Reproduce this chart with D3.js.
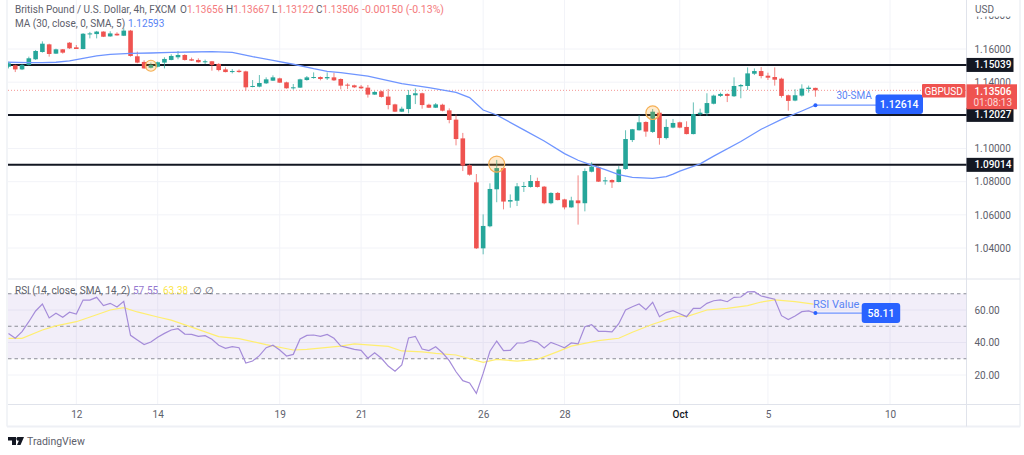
<!DOCTYPE html>
<html>
<head>
<meta charset="utf-8">
<script src="https://cdn.jsdelivr.net/npm/d3@7"></script>
<style>
  html, body { margin: 0; padding: 0; background: #fff; }
  svg { display: block; }
  text { font-family: Roboto, "Liberation Sans", sans-serif; }
</style>
</head>
<body>
<div id="chart"></div>
<script>
// 4h candles, first bar sits 10 bars before the "12" tick
const open = [1.1493,1.1502,1.1477,1.1504,1.1538,1.1582,1.1628,1.1572,1.1598,1.1638,
  1.1610,1.1600,1.1690,1.1690,1.1705,1.1676,1.1692,1.1680,1.1711,1.1556,
  1.1522,1.1487,1.1493,1.1518,1.1534,1.1550,1.1564,1.1538,1.1534,1.1520,
  1.1526,1.1510,1.1477,1.1463,1.1469,1.1465,1.1371,1.1373,1.1393,1.1409,
  1.1423,1.1399,1.1363,1.1367,1.1413,1.1427,1.1431,1.1423,1.1429,1.1419,
  1.1385,1.1381,1.1373,1.1367,1.1325,1.1345,1.1313,1.1266,1.1222,1.1238,
  1.1321,1.1333,1.1264,1.1246,1.1264,1.1230,1.1174,1.1061,1.0899,1.0796,
  1.0398,1.0531,1.0754,1.0882,1.0680,1.0685,1.0768,1.0768,1.0804,1.0770,
  1.0670,1.0732,1.0693,1.0645,1.0687,1.0670,1.0860,1.0886,1.0802,1.0810,
  1.0798,1.0876,1.1051,1.1110,1.1160,1.1100,1.1216,1.1063,1.1126,1.1158,
  1.1130,1.1087,1.1206,1.1212,1.1270,1.1317,1.1329,1.1315,1.1375,1.1377,
  1.1451,1.1467,1.1439,1.1431,1.1421,1.1321,1.1289,1.1319,1.1359,1.13656];
const high = [1.1524,1.1506,1.1510,1.1554,1.1594,1.1646,1.1632,1.1602,1.1600,1.1642,
  1.1624,1.1696,1.1703,1.1709,1.1707,1.1707,1.1701,1.1725,1.1715,1.1584,
  1.1532,1.1518,1.1524,1.1550,1.1568,1.1588,1.1568,1.1548,1.1544,1.1536,
  1.1528,1.1514,1.1489,1.1479,1.1477,1.1469,1.1413,1.1443,1.1429,1.1441,
  1.1427,1.1403,1.1389,1.1421,1.1437,1.1459,1.1435,1.1459,1.1457,1.1423,
  1.1393,1.1385,1.1383,1.1383,1.1347,1.1349,1.1359,1.1270,1.1252,1.1353,
  1.1363,1.1337,1.1270,1.1274,1.1270,1.1242,1.1206,1.1094,1.0905,1.0846,
  1.0603,1.0790,1.0931,1.0886,1.0723,1.0792,1.0798,1.0840,1.0824,1.0774,
  1.0736,1.0738,1.0697,1.0709,1.0838,1.0880,1.0917,1.0891,1.0828,1.0814,
  1.0894,1.1110,1.1118,1.1202,1.1164,1.1238,1.1220,1.1176,1.1178,1.1162,
  1.1164,1.1278,1.1240,1.1333,1.1325,1.1337,1.1333,1.1429,1.1389,1.1489,
  1.1483,1.1491,1.1457,1.1489,1.1427,1.1325,1.1357,1.1387,1.1379,1.13667];
const low = [1.1483,1.1461,1.1473,1.1500,1.1534,1.1578,1.1554,1.1570,1.1572,1.1600,
  1.1600,1.1598,1.1664,1.1664,1.1672,1.1674,1.1680,1.1678,1.1554,1.1514,
  1.1481,1.1483,1.1489,1.1483,1.1532,1.1538,1.1530,1.1528,1.1518,1.1510,
  1.1469,1.1465,1.1459,1.1453,1.1457,1.1349,1.1369,1.1369,1.1389,1.1407,
  1.1395,1.1361,1.1355,1.1365,1.1409,1.1421,1.1411,1.1413,1.1407,1.1357,
  1.1359,1.1365,1.1359,1.1307,1.1323,1.1307,1.1236,1.1220,1.1220,1.1212,
  1.1268,1.1240,1.1244,1.1244,1.1224,1.1152,1.1019,1.0864,1.0836,1.0394,
  1.0362,1.0525,1.0676,1.0633,1.0643,1.0653,1.0738,1.0764,1.0764,1.0664,
  1.0664,1.0687,1.0633,1.0643,1.0541,1.0621,1.0856,1.0798,1.0782,1.0762,
  1.0796,1.0872,1.1039,1.1108,1.1071,1.1094,1.1023,1.1055,1.1122,1.1122,
  1.1085,1.1085,1.1196,1.1196,1.1266,1.1311,1.1280,1.1311,1.1303,1.1353,
  1.1443,1.1423,1.1413,1.1379,1.1307,1.1228,1.1285,1.1313,1.1337,1.13122];
const close = [1.1514,1.1477,1.1504,1.1544,1.1588,1.1632,1.1570,1.1598,1.1578,1.1604,
  1.1600,1.1692,1.1694,1.1705,1.1674,1.1694,1.1682,1.1711,1.1558,1.1518,
  1.1483,1.1504,1.1520,1.1540,1.1558,1.1564,1.1534,1.1530,1.1520,1.1526,
  1.1504,1.1473,1.1461,1.1467,1.1461,1.1369,1.1377,1.1395,1.1417,1.1429,
  1.1397,1.1363,1.1369,1.1417,1.1429,1.1431,1.1419,1.1431,1.1411,1.1379,
  1.1379,1.1369,1.1363,1.1325,1.1341,1.1311,1.1262,1.1222,1.1240,1.1323,
  1.1333,1.1262,1.1246,1.1266,1.1228,1.1172,1.1057,1.0897,1.0842,1.0398,
  1.0533,1.0756,1.0882,1.0680,1.0689,1.0772,1.0774,1.0804,1.0768,1.0670,
  1.0732,1.0689,1.0645,1.0687,1.0670,1.0864,1.0891,1.0800,1.0808,1.0796,
  1.0874,1.1057,1.1116,1.1158,1.1102,1.1222,1.1063,1.1130,1.1154,1.1126,
  1.1087,1.1208,1.1216,1.1274,1.1319,1.1329,1.1317,1.1377,1.1383,1.1453,
  1.1467,1.1437,1.1427,1.1415,1.1317,1.1287,1.1321,1.1361,1.1367,1.13506];

// 30-SMA read at these bars
const smaBars = [-10,-7,-5,-3,-1,1,3,5,8,11,14,17,20,23,26,29,32,35,37,39,43,48,52,56,58,60,62,66,69,72,74,76,78,80,82,85,87,88,89,92,94,98,101,104,107,109];
const smaVals = [1.1520,1.1518,1.1518,1.1520,1.1528,1.1544,1.1558,1.1568,1.1574,1.1576,1.1580,1.1582,1.1584,1.1580,1.1554,1.1532,1.1508,1.1481,1.1465,1.1457,1.1437,1.1391,1.1367,1.1339,1.1307,1.1232,1.1202,1.1112,1.1045,1.0969,1.0929,1.0900,1.0872,1.0842,1.0826,1.0820,1.0830,1.0846,1.0864,1.0907,1.0954,1.1042,1.1116,1.1176,1.1226,1.12614];

const rsi = [45.6,42.6,46.7,52.8,59.4,63.7,55.1,58,55.5,58.6,
  57.5,66.1,66.1,67.8,62.7,64.1,61.8,65.3,44.4,41.5,
  38.7,40.3,43.2,45.6,47.7,48.5,45.2,45,43.8,44.2,
  42,38.3,36.4,37.4,36.8,27.4,28.6,31.9,36.8,38.3,
  35.4,31.7,32.7,42.2,44.4,44.6,43.8,45,42.6,37.8,
  36.8,35.8,35.2,30.3,33.7,30.3,25.5,22.3,26.2,42.8,
  43.8,36,35,37.4,33.7,28.8,22,16.5,15.1,8.7,
  21,34.6,40.9,35,35.2,39.7,39.7,41.3,40.1,36.6,
  40.1,38.5,36.8,39.7,39.1,49.7,51,46.9,46.9,46.5,
  51.6,60,62,63.7,60.2,64.7,55.9,58.4,59.6,57.7,
  55.9,61,61,64.1,65.7,66.2,65.1,67.8,68,71.1,
  71.3,68.6,67.6,66.6,56.5,54.1,56.3,59,59.4,58.11];

const rsiMaBars = [-10,-8,-5,-3,0,3,5,7,9,12,14,17,21,24,28,32,34,39,41,43,46,48,51,53,56,60,62,65,68,71,73,77,80,82,85,88,89,90,93,96,99,101,103,106,109];
const rsiMaVals = [42.6,42.6,47.7,50.2,52.8,57.1,60,61.4,58.8,55.7,53.8,49.5,43.6,42.4,38.7,35.4,35.8,37.8,39.1,38.5,37.6,34.8,34.2,33.3,32.3,27.8,29.6,28.6,29.6,34.4,37.8,41.1,42.6,46.3,51.2,55.3,56.3,55.9,60,61,62.7,64.9,66.2,65.1,63.5];

const levels = [1.15039, 1.12027, 1.09014];
const priceTicks = [1.16, 1.14, 1.12, 1.10, 1.08, 1.06, 1.04];
const cutTick = 1.18; // mostly hidden under the USD header
const rsiTicks = [60, 40, 20];
const rsiBands = [70, 50, 30];
const timeBars = [0, 12, 30, 42, 60, 72, 89, 102, 120];
const timeLabels = ["12", "14", "19", "21", "26", "28", "Oct", "5", "10"];
const touchBars = [11, 62, 85];
const touchPrices = [1.1499, 1.0906, 1.1216];
const touchRadius = [5.5, 8, 6.8];
const lastBar = 109;
const lastPrice = 1.13506;
const lastSma = 1.12614;
const lastRsi = 58.11;

const width = 1024, height = 455;
const plotL = 8, plotR = 966.5, priceB = 279, timeT = 404.5, outerB = 426.5;
const UP = "#26a69a", DOWN = "#ef5350", SOFTRED = "#f4797c", BLUE = "#2962ff", GRID = "#f2f3f8", LINE = "#e0e3eb", TXT = "#5d606b";

const bars = open.map((d, i) => ({ i: i - 10, o: d, h: high[i], l: low[i], c: close[i] }));

const x = d3.scaleLinear().domain([0, 120]).range([76.3, 890]);
const y = d3.scaleLinear().domain([1.16, 1.04]).range([49, 248]);
const yRsi = d3.scaleLinear().domain([60, 20]).range([310, 375]);

const svg = d3.select("#chart").append("svg")
  .attr("width", width).attr("height", height)
  .attr("viewBox", [0, 0, width, height]);

const defs = svg.append("defs");
defs.append("clipPath").attr("id", "pricePane").append("rect")
  .attr("x", plotL).attr("y", 0).attr("width", plotR - plotL).attr("height", priceB);
defs.append("clipPath").attr("id", "rsiPane").append("rect")
  .attr("x", plotL).attr("y", priceB).attr("width", plotR - plotL).attr("height", timeT - priceB);
defs.append("clipPath").attr("id", "priceAxis").append("rect")
  .attr("x", plotR).attr("y", 16.5).attr("width", 60).attr("height", priceB);

// grid
const grid = svg.append("g").attr("stroke", GRID).attr("stroke-width", 1);
grid.selectAll(".gx").data(timeBars).join("line").attr("class", "gx")
  .attr("x1", d => x(d)).attr("x2", d => x(d)).attr("y1", 0).attr("y2", timeT);
grid.selectAll(".gy").data(priceTicks).join("line").attr("class", "gy")
  .attr("x1", plotL).attr("x2", plotR).attr("y1", d => y(d)).attr("y2", d => y(d));
grid.selectAll(".gr").data(rsiTicks).join("line").attr("class", "gr")
  .attr("x1", plotL).attr("x2", plotR).attr("y1", d => yRsi(d)).attr("y2", d => yRsi(d));

// frame
const frame = svg.append("g").attr("fill", "none");
frame.append("line").attr("x1", 7).attr("x2", 7).attr("y1", 0).attr("y2", outerB).attr("stroke", "#eef0f5").attr("stroke-width", 1.5);
frame.append("line").attr("x1", 7).attr("x2", 1020).attr("y1", outerB).attr("y2", outerB).attr("stroke", "#eef0f5").attr("stroke-width", 2);
frame.append("line").attr("x1", 1020).attr("x2", 1020).attr("y1", 0).attr("y2", outerB).attr("stroke", "#eef0f5").attr("stroke-width", 1.5);
frame.append("line").attr("x1", plotL).attr("x2", 1020).attr("y1", priceB).attr("y2", priceB).attr("stroke", LINE);
frame.append("line").attr("x1", plotL).attr("x2", 1020).attr("y1", timeT).attr("y2", timeT).attr("stroke", LINE);
frame.append("line").attr("x1", plotR).attr("x2", plotR).attr("y1", 0).attr("y2", outerB).attr("stroke", LINE);

// last price dotted line
svg.append("line")
  .attr("x1", plotL).attr("x2", plotR).attr("y1", y(lastPrice)).attr("y2", y(lastPrice))
  .attr("stroke", DOWN).attr("stroke-width", 1).attr("stroke-dasharray", "1 2").attr("opacity", 0.6);

// support / resistance
svg.append("g").selectAll("line").data(levels).join("line")
  .attr("x1", plotL).attr("x2", plotR).attr("y1", d => y(d)).attr("y2", d => y(d))
  .attr("stroke", "#131722").attr("stroke-width", 2);

// candles
const pane = svg.append("g").attr("clip-path", "url(#pricePane)");
const candle = pane.selectAll(".candle").data(bars).join("g").attr("class", "candle")
  .attr("fill", d => d.c >= d.o ? UP : DOWN)
  .attr("stroke", d => d.c >= d.o ? UP : DOWN);
candle.append("line")
  .attr("x1", d => x(d.i)).attr("x2", d => x(d.i))
  .attr("y1", d => y(d.h)).attr("y2", d => y(d.l))
  .attr("stroke-width", 1).attr("opacity", 0.7);
candle.append("rect")
  .attr("x", d => x(d.i) - 2.3).attr("width", 4.6)
  .attr("y", d => y(Math.max(d.o, d.c)))
  .attr("height", d => Math.max(1, Math.abs(y(d.o) - y(d.c))))
  .attr("stroke", "none");

// touch markers
pane.selectAll(".touch").data(touchBars).join("circle").attr("class", "touch")
  .attr("cx", d => x(d)).attr("cy", (d, i) => y(touchPrices[i])).attr("r", (d, i) => touchRadius[i])
  .attr("fill", "#ff9800").attr("fill-opacity", 0.2).attr("stroke", "#f5b056").attr("stroke-width", 1.2);

// SMA line
pane.append("path").datum(smaBars)
  .attr("fill", "none").attr("stroke", "#6f95ff").attr("stroke-width", 1.3)
  .attr("d", d3.line().x(d => x(d)).y((d, i) => y(smaVals[i])));

// SMA callout
svg.append("line").attr("x1", x(lastBar)).attr("x2", 878).attr("y1", y(lastSma)).attr("y2", y(lastSma)).attr("stroke", "#6f95ff").attr("stroke-width", 1.3);
svg.append("circle").attr("cx", x(lastBar)).attr("cy", y(lastSma)).attr("r", 2).attr("fill", BLUE);
svg.append("rect").attr("x", 875.5).attr("y", 94.5).attr("width", 47.5).attr("height", 19.5).attr("rx", 3).attr("fill", BLUE);
svg.append("text").attr("x", 899.2).attr("y", 108).attr("text-anchor", "middle").attr("fill", "#fff")
  .attr("font-size", 10.5).attr("font-weight", 500).text("1.12614");
svg.append("text").attr("x", 836.5).attr("y", 99).attr("fill", "#5a84f5").attr("font-size", 10).text("30-SMA");

// RSI pane
const rsiG = svg.append("g").attr("clip-path", "url(#rsiPane)");
rsiG.append("rect").attr("x", plotL).attr("width", plotR - plotL)
  .attr("y", yRsi(rsiBands[0])).attr("height", yRsi(rsiBands[2]) - yRsi(rsiBands[0]))
  .attr("fill", "#7e57c2").attr("fill-opacity", 0.1);
rsiG.selectAll(".band").data(rsiBands).join("line").attr("class", "band")
  .attr("x1", plotL).attr("x2", plotR).attr("y1", d => yRsi(d)).attr("y2", d => yRsi(d))
  .attr("stroke", "#8a8d96").attr("stroke-width", 1).attr("stroke-dasharray", "3.5 3");
rsiG.append("path").datum(rsiMaBars)
  .attr("fill", "none").attr("stroke", "#ffee70").attr("stroke-width", 1.2)
  .attr("d", d3.line().x(d => x(d)).y((d, i) => yRsi(rsiMaVals[i])));
rsiG.append("path").datum(bars)
  .attr("fill", "none").attr("stroke", "#a58cd9").attr("stroke-width", 1.2)
  .attr("d", d3.line().x(d => x(d.i)).y((d, i) => yRsi(rsi[i])));

// RSI callout
svg.append("line").attr("x1", x(lastBar)).attr("x2", 864).attr("y1", yRsi(lastRsi)).attr("y2", yRsi(lastRsi)).attr("stroke", "#6f95ff").attr("stroke-width", 1.3);
svg.append("circle").attr("cx", x(lastBar)).attr("cy", yRsi(lastRsi)).attr("r", 2).attr("fill", BLUE);
svg.append("rect").attr("x", 861.7).attr("y", 303).attr("width", 38.5).attr("height", 20).attr("rx", 3).attr("fill", BLUE);
svg.append("text").attr("x", 881).attr("y", 317).attr("text-anchor", "middle").attr("fill", "#fff")
  .attr("font-size", 10.5).attr("font-weight", 500).text("58.11");
svg.append("text").attr("x", 813).attr("y", 308).attr("fill", "#5a84f5").attr("font-size", 11).text("RSI Value");

// price axis
const priceAxis = svg.append("g").attr("transform", `translate(${plotR},0)`)
  .call(d3.axisRight(y).tickValues(priceTicks).tickFormat(d3.format(".5f")).tickSize(0).tickPadding(8));
priceAxis.select(".domain").remove();
priceAxis.selectAll("text").attr("fill", TXT).attr("font-size", 10).style("font-family", "Roboto");
svg.append("g").attr("clip-path", "url(#priceAxis)").append("text")
  .attr("x", plotR + 8).attr("y", y(cutTick) + 3.5).attr("fill", TXT).attr("font-size", 10).text(d3.format(".5f")(cutTick));

// RSI axis
const rsiAxis = svg.append("g").attr("transform", `translate(${plotR},0)`)
  .call(d3.axisRight(yRsi).tickValues(rsiTicks).tickFormat(d3.format(".2f")).tickSize(0).tickPadding(8));
rsiAxis.select(".domain").remove();
rsiAxis.selectAll("text").attr("fill", TXT).attr("font-size", 10).style("font-family", "Roboto");

// time axis
const timeAxis = svg.append("g").attr("transform", `translate(0,${timeT})`)
  .call(d3.axisBottom(x).tickValues(timeBars).tickFormat((d, i) => timeLabels[i]).tickSize(0).tickPadding(6));
timeAxis.select(".domain").remove();
timeAxis.selectAll("text").attr("fill", d => d === 89 ? "#131722" : TXT).attr("font-size", 10).style("font-family", "Roboto")
  .attr("font-weight", d => d === 89 ? 500 : 400);

svg.append("text").attr("x", 975).attr("y", 13).attr("fill", TXT).attr("font-size", 10).text("USD");

// level labels
const lvl = svg.append("g").selectAll("g").data(levels).join("g")
  .attr("transform", d => `translate(${plotR},${y(d)})`);
lvl.append("rect").attr("x", 0).attr("y", -7).attr("width", 47).attr("height", 14).attr("fill", "#131722");
lvl.append("text").attr("x", 8).attr("y", 3.5).attr("fill", "#fff").attr("font-size", 10).attr("font-weight", 500)
  .text(d => d3.format(".5f")(d));

// last price labels
svg.append("rect").attr("x", 922).attr("y", 84).attr("width", 43.5).attr("height", 13.5).attr("rx", 1).attr("fill", DOWN);
svg.append("text").attr("x", 943.7).attr("y", 94.5).attr("text-anchor", "middle").attr("fill", "#fff").attr("font-size", 10).text("GBPUSD");
svg.append("rect").attr("x", plotR).attr("y", 84.3).attr("width", 50.5).attr("height", 25).attr("fill", DOWN);
svg.append("text").attr("x", plotR + 8).attr("y", 95).attr("fill", "#fff").attr("font-size", 10).attr("font-weight", 500).text("1.13506");
svg.append("text").attr("x", plotR + 7).attr("y", 106).attr("fill", "#fbd9d8").attr("font-size", 10).text("01:08:13");

// legends
const title = svg.append("text").attr("x", 15).attr("y", 13).attr("font-size", 10).attr("fill", TXT);
title.append("tspan").text("British Pound / U.S. Dollar, 4h, FXCM");
[["O", "1.13656", 180], ["H", "1.13667", 226], ["L", "1.13122", 272], ["C", "1.13506", 316]].forEach(([k, v, px]) => {
  title.append("tspan").attr("x", px).text(k);
  title.append("tspan").attr("fill", SOFTRED).text(v);
});
title.append("tspan").attr("x", 362).attr("fill", SOFTRED).attr("font-size", 10.5).text("-0.00150 (-0.13%)");

const maLegend = svg.append("text").attr("x", 15).attr("y", 27).attr("font-size", 10).attr("fill", TXT);
maLegend.append("tspan").text("MA (30, close, 0, SMA, 5)");
maLegend.append("tspan").attr("x", 128).attr("fill", "#5a84f5").text("1.12593");

const rsiLegend = svg.append("text").attr("x", 15).attr("y", 294).attr("font-size", 10).attr("fill", TXT);
rsiLegend.append("tspan").text("RSI (14, close, SMA, 14, 2)");
rsiLegend.append("tspan").attr("x", 133).attr("fill", "#9478cf").text("57.55");
rsiLegend.append("tspan").attr("x", 163).attr("fill", "#fbe64a").text("63.38");
rsiLegend.append("tspan").attr("x", 193).text("∅");
rsiLegend.append("tspan").attr("x", 205).text("∅");

// footer logo
svg.append("path").attr("fill", "#131722")
  .attr("d", "M8 437h8v8h-4v-4.5h-4zM17.5 437h6.5l-3.5 8h-3.5l2-4.5a1.8 1.8 0 0 1-1.5-3.5z");
svg.append("text").attr("x", 27).attr("y", 445).attr("fill", "#5d606b").attr("font-size", 10.5).text("TradingView");
</script>
</body>
</html>
